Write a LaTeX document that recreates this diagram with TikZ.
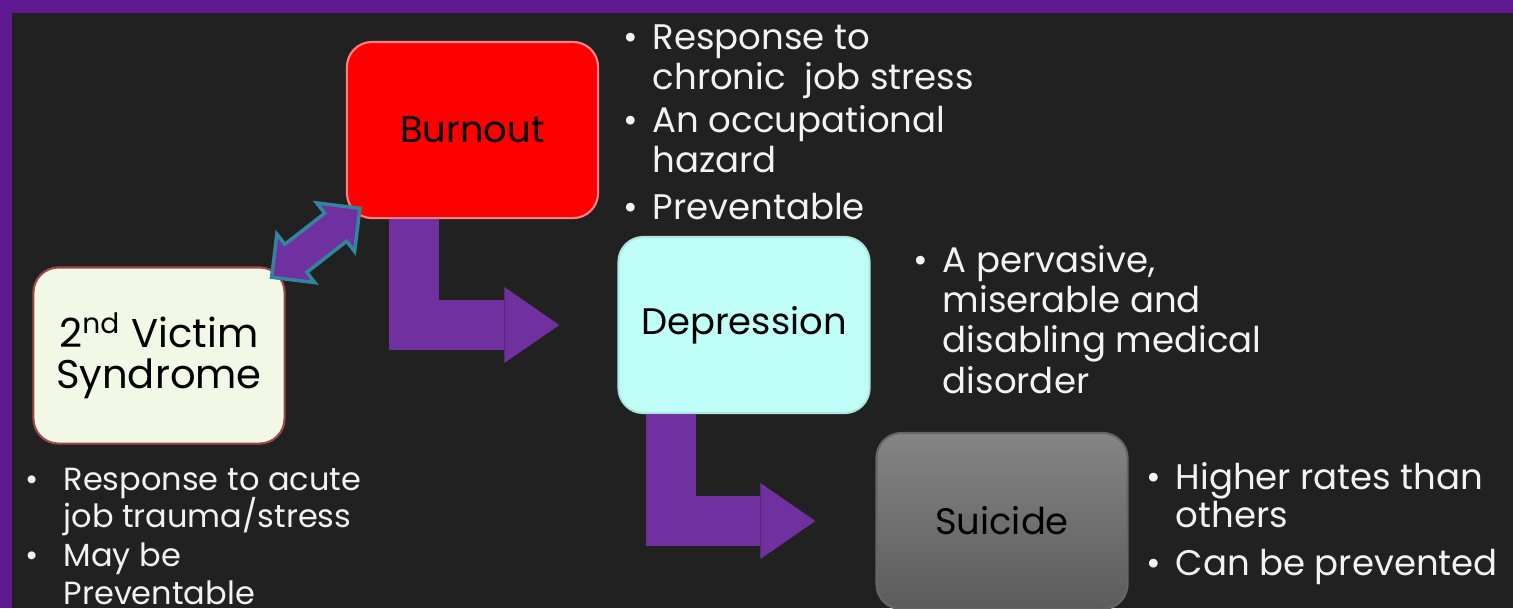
\documentclass[tikz,border=0pt]{standalone}
\usepackage{fontspec}
\setmainfont{Poppins}
\usetikzlibrary{arrows.meta,shapes.arrows,calc}

\definecolor{framepurple}{HTML}{5E1890}
\definecolor{slidebg}{HTML}{212121}
\definecolor{arrowpurple}{HTML}{7030A0}
\definecolor{linkteal}{HTML}{31859C}
\definecolor{burnred}{HTML}{FF0000}
\definecolor{burnedge}{HTML}{FF8080}
\definecolor{depfill}{HTML}{C0FFF8}
\definecolor{victfill}{HTML}{F3F7E5}
\definecolor{victedge}{HTML}{9A4A4A}
\definecolor{listwhite}{HTML}{F2F2F2}

\setlength{\lineskiplimit}{-8pt}

\tikzset{
	stagebox/.style={rounded corners=0.25cm, minimum width=2.51cm, minimum height=1.76cm,
		inner sep=0pt, line width=0.6pt, text=black, align=center,
		font=\fontsize{10.5}{11.6}\selectfont},
	bentarrow/.style={draw=arrowpurple, line width=0.5cm, line join=miter,
		-{Triangle[length=0.55cm,width=0.76cm,line width=0pt]}},
	notes/.style={text=listwhite, inner sep=0pt, anchor=base west, align=left,
		font=\fontsize{10.1}{11.4}\selectfont},
}
\newcommand{\blt}[1]{\llap{\textbullet\hspace{#1}}}

\begin{document}
\begin{tikzpicture}[x=0.01cm, y=-0.01cm]
	\useasboundingbox (0,0) rectangle (1513,608);
	\fill[framepurple] (0,0) rectangle (1513,608);
	\fill[slidebg] (12,13) rectangle (1513,608);
	% the four stages
	\node[stagebox, fill=burnred, draw=burnedge] (burnout) at (472.5,130) {Burnout};
	\node[stagebox, fill=depfill, draw=depfill!90!black] (depression) at (744,325) {Depression};
	\node[stagebox, top color=black!48, bottom color=black!64, draw=black!60] (suicide) at (1002,521) {Suicide};
	\node[stagebox, fill=victfill, draw=victedge, font=\fontsize{11.4}{11.7}\selectfont] (victim) at (159,355.5)
		{2\textsuperscript{nd} Victim\\Syndrome};
	% arrows between them
	\draw[bentarrow] ([xshift=0.68cm]burnout.south west) |- ([xshift=-0.58cm]depression.west);
	\draw[bentarrow] ([xshift=0.54cm]depression.south west) |- ([xshift=-0.60cm]suicide.west);
	\node[double arrow, rotate=38, fill=arrowpurple, draw=linkteal, line width=1pt,
		minimum height=1.12cm, minimum width=0pt, double arrow head extend=0.13cm,
		inner xsep=0pt, inner ysep=0.16cm]
		(link) at ($(victim.north east)!0.5!(burnout.south west)$) {};
	% notes beside each stage
	\node[notes] (burnnotes) at (652,219) {\blt{0.15cm}Response to\\chronic\ \ job stress\\[0.9pt]
		\blt{0.15cm}An occupational\\hazard\\[1.7pt]\blt{0.15cm}Preventable};
	\node[notes] (depnotes) at (942,393) {\blt{0.15cm}A pervasive,\\miserable and\\disabling medical\\disorder};
	\node[notes, font=\fontsize{10.1}{10.8}\selectfont] (suinotes) at (1175,575)
		{\blt{0.15cm}Higher rates than\\others\\[2.6pt]\blt{0.15cm}Can be prevented};
	\node[notes, font=\fontsize{9.1}{10.6}\selectfont] (victnotes) at (63,604)
		{\blt{0.25cm}Response to acute\\job trauma/stress\\[0.6pt]\blt{0.25cm}May be\\Preventable};
\end{tikzpicture}
\end{document}
